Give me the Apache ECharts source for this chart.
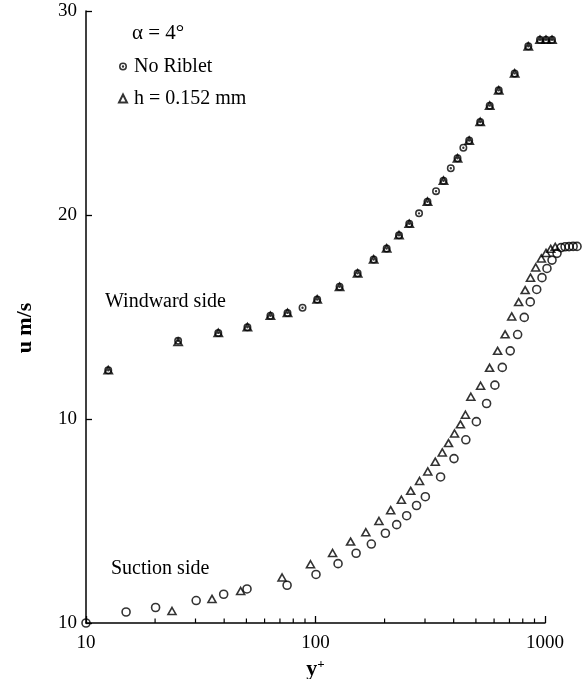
<!DOCTYPE html>
<html>
<head>
<meta charset="utf-8">
<script src="https://cdn.jsdelivr.net/npm/echarts@6/dist/echarts.min.js"></script>
<style>
html, body { margin: 0; padding: 0; background: #fff; }
#chart { width: 585px; height: 679px; }
</style>
</head>
<body>
<div id="chart"></div>
<script>
// Tick labels
const xTickLabels = ['10', '100', '1000'];
const xMinorTicks = [20, 30, 40, 50, 60, 70, 80, 90, 200, 300, 400, 500, 600, 700, 800, 900];
const yTickLabels = ['10', '10', '20', '30'];   // at 0, 10, 20, 30 (suction side is shifted down by 10)

// Windward side, no riblet  [y+, u]
const windwardNoRiblet = [
  [12.5, 12.39], [25.2, 13.83], [37.7, 14.22], [50.5, 14.50], [63.6, 15.06], [75.5, 15.20],
  [87.8, 15.45], [101.7, 15.86], [127.3, 16.48], [152.6, 17.14], [179.2, 17.82], [204.2, 18.36],
  [231.1, 19.01], [256.1, 19.57], [282.6, 20.08], [307.5, 20.65], [335.1, 21.17], [361.1, 21.68],
  [388.6, 22.29], [415.7, 22.78], [440.8, 23.30], [467.3, 23.65], [521.9, 24.56], [574.1, 25.36],
  [628.5, 26.11], [737.4, 26.94], [845.6, 28.27], [951, 28.59], [1010, 28.59], [1073, 28.59]
];

// Windward side, h = 0.152 mm  [y+, u]
const windwardRiblet = [
  [12.5, 12.39], [25.2, 13.78], [37.7, 14.22], [50.5, 14.50], [63.6, 15.06], [75.5, 15.20],
  [101.7, 15.86], [127.3, 16.48], [152.6, 17.14], [179.2, 17.82], [204.2, 18.36],
  [231.1, 19.01], [256.1, 19.57], [307.5, 20.65], [361.1, 21.68],
  [415.7, 22.78], [467.3, 23.65], [521.9, 24.56], [574.1, 25.36],
  [628.5, 26.11], [737.4, 26.94], [845.6, 28.27], [951, 28.59], [1010, 28.59], [1073, 28.59]
];

// Suction side, no riblet  [y+, u - 10]
const suctionNoRiblet = [
  [10, 0], [14.95, 0.54], [20.1, 0.76], [30.2, 1.10], [39.8, 1.41], [50.3, 1.67], [75.2, 1.85],
  [100.5, 2.38], [125.4, 2.91], [150.3, 3.42], [175.1, 3.87], [201.6, 4.40], [225.8, 4.82],
  [249.6, 5.26], [275.6, 5.76], [301.0, 6.19], [350.8, 7.16], [401.3, 8.06], [451.9, 8.98],
  [502.2, 9.87], [556.5, 10.76], [604.9, 11.66], [651.6, 12.53], [705.5, 13.34], [759.9, 14.14],
  [812.1, 14.98], [862.7, 15.74], [920.2, 16.35], [970.3, 16.93], [1020, 17.38], [1073, 17.79],
  [1128, 18.12], [1175, 18.40], [1223, 18.44], [1273, 18.45], [1326, 18.46], [1379, 18.46]
];

// Suction side, h = 0.152 mm  [y+, u - 10]
const suctionRiblet = [
  [23.7, 0.59], [35.4, 1.18], [47.2, 1.57], [71.5, 2.23], [95.1, 2.88], [118.7, 3.43],
  [142.2, 3.99], [165.7, 4.45], [189.0, 5.00], [212.6, 5.53], [236.7, 6.04], [259.9, 6.48],
  [284.0, 6.96], [308.4, 7.43], [332.5, 7.91], [356.8, 8.36], [379.7, 8.82], [403.4, 9.29],
  [428.0, 9.74], [450.1, 10.21], [475.2, 11.09], [524.0, 11.63], [573.5, 12.51], [621.5, 13.34],
  [670.1, 14.15], [716.1, 15.03], [767.6, 15.73], [819.4, 16.32], [864.5, 16.93], [910.9, 17.43],
  [963.5, 17.87], [1010.2, 18.14], [1059, 18.34], [1108, 18.44]
];

const SERIF = '"Liberation Serif", "DejaVu Serif", serif';
const BLACK = '#000';
// ring with a centre dot
const DOT_CIRCLE = 'path://M0,-5A5,5,0,1,1,0,5A5,5,0,1,1,0,-5Z' +
  'M0,-3.1A3.1,3.1,0,1,0,0,3.1A3.1,3.1,0,1,0,0,-3.1Z' +
  'M0,-1.5A1.5,1.5,0,1,1,0,1.5A1.5,1.5,0,1,1,0,-1.5Z';

const chart = echarts.init(document.getElementById('chart'), null, { renderer: 'canvas' });

const axisLine = { show: true, lineStyle: { color: BLACK, width: 1.5 } };

chart.setOption({
  animation: false,
  backgroundColor: '#fff',
  title: {
    text: 'α = 4°',
    left: 127, top: 18,
    textStyle: { fontFamily: SERIF, fontSize: 21, fontWeight: 'normal', color: BLACK }
  },
  legend: {
    orient: 'vertical',
    left: 113, top: 50,
    itemWidth: 8, itemHeight: 8, itemGap: 9,
    symbolKeepAspect: true,
    selectedMode: false,
    textStyle: { fontFamily: SERIF, fontSize: 20, color: BLACK, padding: [0, 0, 0, 2], lineHeight: 23 },
    data: [
      { name: 'No Riblet', icon: DOT_CIRCLE },
      { name: 'h = 0.152 mm', icon: 'triangle' }
    ]
  },
  grid: { left: 86, right: 40, top: 11, bottom: 56, outerBoundsMode: 'none' },
  xAxis: {
    type: 'log', logBase: 10, min: 10, max: 1000,
    name: '{y|y}{p|+}', nameLocation: 'middle', nameGap: 24,
    nameTextStyle: {
      rich: {
        y: { fontFamily: SERIF, fontSize: 22, fontWeight: 'bold', color: BLACK },
        p: { fontFamily: SERIF, fontSize: 13, fontWeight: 'bold', color: BLACK, verticalAlign: 'top', padding: [0, 0, 8, 0] }
      }
    },
    axisLine: axisLine,
    axisTick: { show: true, inside: true, length: 7, lineStyle: { color: BLACK, width: 1.3 } },
    axisLabel: {
      margin: 11, fontFamily: SERIF, fontSize: 19, color: BLACK,
      formatter: v => xTickLabels[Math.round(Math.log10(v)) - 1]
    },
    splitLine: { show: false }
  },
  yAxis: {
    type: 'value', min: 0, max: 30, interval: 10,
    name: 'u m/s', nameLocation: 'middle', nameGap: 50,
    nameTextStyle: { fontFamily: SERIF, fontSize: 22, fontWeight: 'bold', color: BLACK, padding: [0, 22, 0, 0] },
    axisLine: axisLine,
    axisTick: { show: true, inside: true, length: 6, lineStyle: { color: BLACK, width: 1.3 } },
    axisLabel: {
      margin: 9, fontFamily: SERIF, fontSize: 19, color: BLACK,
      formatter: v => yTickLabels[Math.round(v / 10)]
    },
    splitLine: { show: false }
  },
  graphic: [
    { type: 'text', left: 105, top: 292, style: { text: 'Windward side', font: '20px ' + SERIF, fill: BLACK } },
    { type: 'text', left: 111, top: 559, style: { text: 'Suction side', font: '20px ' + SERIF, fill: BLACK } }
  ],
  series: [
    {
      // minor ticks of the log axis, placed through the axis scale
      type: 'custom', silent: true, clip: false, z: 5,
      data: xMinorTicks.map(v => [v, 0]),
      encode: { x: 0, y: 1 },
      renderItem: (params, api) => {
        const p = api.coord([api.value(0), 0]);
        return {
          type: 'line',
          shape: { x1: p[0], y1: p[1], x2: p[0], y2: p[1] - 4.5 },
          style: { stroke: BLACK, lineWidth: 1.2 }
        };
      }
    },
    {
      name: 'h = 0.152 mm', type: 'scatter', data: windwardRiblet, clip: false,
      symbol: 'triangle', symbolSize: [8, 7],
      itemStyle: { color: 'rgba(0,0,0,0)', borderColor: BLACK, borderWidth: 1.8 }, z: 2
    },
    {
      name: 'No Riblet', type: 'scatter', data: windwardNoRiblet, clip: false,
      symbol: DOT_CIRCLE, symbolSize: 8,
      itemStyle: { color: BLACK, borderWidth: 0 }, z: 3
    },
    {
      name: 'No Riblet', type: 'scatter', data: suctionNoRiblet, clip: false,
      symbol: 'circle', symbolSize: 8,
      itemStyle: { color: 'rgba(0,0,0,0)', borderColor: BLACK, borderWidth: 1.6 }, z: 3
    },
    {
      name: 'h = 0.152 mm', type: 'scatter', data: suctionRiblet, clip: false,
      symbol: 'triangle', symbolSize: [8, 7],
      itemStyle: { color: 'rgba(0,0,0,0)', borderColor: BLACK, borderWidth: 1.6 }, z: 3
    }
  ]
});
</script>
</body>
</html>
